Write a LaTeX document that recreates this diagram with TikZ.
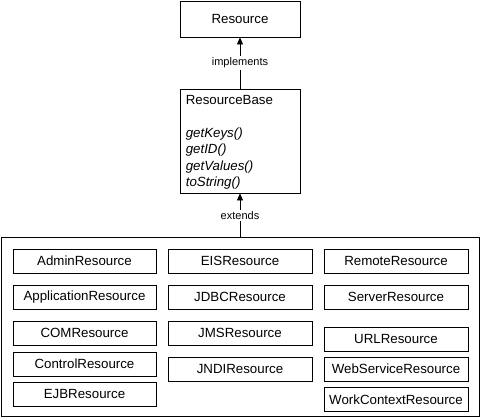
\documentclass[tikz,border=0pt]{standalone}
\usepackage{fontspec}
\setmainfont{Liberation Sans}
\usepackage{tikz}
\usetikzlibrary{arrows.meta}

\begin{document}
\begin{tikzpicture}[x=1pt,y=-1pt,
  box/.style={draw,line width=0.8pt,minimum width=143pt,minimum height=24pt,inner sep=0pt,font=\fontsize{13.3}{15}\selectfont},
  arr/.style={line width=0.8pt,-{Triangle[width=6pt,length=7pt]}},
  lbl/.style={fill=white,inner sep=1.5pt,font=\fontsize{11}{13}\selectfont}]
  \useasboundingbox (0,0) rectangle (481,418);

  \node[box,minimum width=120pt,minimum height=36pt] (res) at (240,19) {Resource};
  \node[box,minimum width=120pt,minimum height=104pt] (rb) at (240,141) {};
  \node[anchor=north west,align=left,inner sep=0pt,font=\fontsize{13.3}{16.5}\selectfont] (rbtext)
    at ([xshift=6pt,yshift=-6.5pt]rb.north west)
    {ResourceBase\\[16.5pt]\textit{getKeys()}\\\textit{getID()}\\\textit{getValues()}\\\textit{toString()}};
  \node[draw,line width=0.8pt,minimum width=478pt,minimum height=179pt,inner sep=0pt] (grp) at (240,327) {};

  \foreach \name/\y/\txt in {admin/261/AdminResource,appl/297/ApplicationResource,com/333/COMResource,control/364/ControlResource,ejb/394/EJBResource}
    \node[box] (\name) at (84.5,\y) {\txt};
  \foreach \name/\y/\txt in {eis/261/EISResource,jdbc/297/JDBCResource,jms/333/JMSResource,jndi/369/JNDIResource}
    \node[box,minimum width=144pt] (\name) at (240,\y) {\txt};
  \foreach \name/\y/\txt in {remote/261/RemoteResource,server/297/ServerResource,url/339/URLResource,websvc/369/WebServiceResource,workctx/399.5/WorkContextResource}
    \node[box,minimum width=144pt] (\name) at (396,\y) {\txt};

  \draw[arr] (rb.north) -- node[lbl] (impl) {implements} (res.south);
  \draw[arr] (grp.north) -- node[lbl] (ext) {extends} (rb.south);
\end{tikzpicture}
\end{document}
